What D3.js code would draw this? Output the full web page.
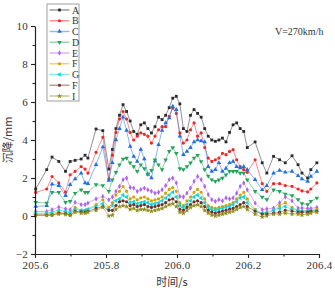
<!DOCTYPE html>
<html>
<head>
<meta charset="utf-8">
<script src="https://cdn.jsdelivr.net/npm/d3@7"></script>
<style>
  body { margin: 0; background: #fff; }
  svg text { font-family: "Liberation Serif", "DejaVu Serif", serif; fill: #333; }
  .cjk { font-family: "Noto Sans CJK SC", sans-serif; }
</style>
</head>
<body>
<div id="chart"></div>
<script>
// time axis (s)
const times = [
  205.602, 205.633, 205.648, 205.667, 205.686, 205.699, 205.713, 205.730, 205.741, 205.749, 205.772, 205.791, 205.808,
  205.818, 205.828, 205.838, 205.848, 205.858, 205.868, 205.878, 205.888, 205.898, 205.908,
  205.918, 205.928, 205.938, 205.948, 205.958, 205.968, 205.978, 205.988, 205.998, 206.008,
  206.018, 206.028, 206.038, 206.048, 206.058, 206.068, 206.078, 206.088, 206.098, 206.108,
  206.118, 206.128, 206.138, 206.148, 206.158, 206.168, 206.178, 206.188, 206.198,
  206.220, 206.240, 206.253, 206.272, 206.289, 206.305, 206.324, 206.341, 206.352, 206.368, 206.377, 206.394
];

// settlement (mm) per measuring point
const seriesA = [
  1.42, 2.44, 3.1, 2.87, 2.35, 2.87, 2.93, 3.0, 3.2, 3.05, 4.58, 4.49, 2.47,
  3.5, 4.6, 5.3, 5.86, 5.5, 5.0, 4.45, 4.3, 4.8, 4.9,
  4.6, 4.37, 4.7, 5.2, 5.07, 5.3, 5.7, 6.2, 6.3, 5.9,
  4.6, 4.45, 5.3, 5.6, 5.4, 5.2, 4.6, 4.2, 4.0, 3.93,
  4.0, 4.1, 3.9, 4.4, 4.8, 4.9, 4.6, 4.45, 3.6,
  3.9, 2.8, 2.26, 3.14, 2.96, 2.8, 3.17, 2.7, 2.26, 2.0, 2.44, 2.8
];
const seriesB = [
  1.24, 1.42, 2.08, 1.74, 1.26, 2.17, 2.35, 2.6, 2.47, 2.26, 3.35, 4.14, 1.95,
  3.2, 4.4, 5.1, 5.5, 5.1, 4.4, 4.0, 4.2, 4.37, 4.3,
  4.2, 3.84, 4.2, 4.54, 4.7, 4.7, 5.24, 5.68, 5.4, 4.37,
  3.84, 4.0, 4.54, 4.9, 4.2, 4.37, 3.6, 3.05, 2.87, 2.96,
  3.05, 3.3, 3.23, 3.4, 3.49, 2.96, 2.6, 2.44, 2.3,
  2.96, 1.7, 1.3, 1.7, 1.7, 1.6, 1.56, 1.42, 1.32, 1.27, 1.42, 1.74
];
const seriesC = [
  0.5, 0.54, 1.68, 1.6, 1.07, 1.65, 1.95, 2.26, 1.74, 1.7, 2.7, 3.63, 1.87,
  2.8, 4.0, 4.6, 5.2, 4.5, 3.66, 3.14, 2.87, 3.5, 3.0,
  2.2, 2.0, 2.9, 3.75, 4.5, 4.9, 5.16, 5.77, 5.6, 4.2,
  3.23, 3.4, 3.6, 3.9, 4.0, 3.95, 3.9, 2.6, 2.35, 2.44,
  2.8, 2.35, 2.5, 2.8, 2.87, 2.6, 2.53, 2.6, 2.44,
  1.91, 1.38, 1.6, 2.26, 2.4, 2.3, 2.35, 2.12, 1.95, 1.82, 2.08, 2.35
];
const seriesD = [
  0.72, 0.68, 1.24, 1.24, 0.72, 0.77, 1.2, 1.38, 1.24, 1.24, 1.65, 1.6, 1.3,
  1.9, 2.3, 2.7, 3.0, 3.05, 2.8, 2.6, 2.35, 2.7, 2.5,
  2.2, 2.4, 2.96, 2.7, 2.44, 2.96, 3.4, 3.6, 3.3, 2.5,
  2.44, 2.6, 2.8, 3.05, 3.2, 2.87, 2.44, 2.1, 1.91, 1.82,
  1.9, 2.0, 2.17, 2.35, 2.35, 2.35, 2.26, 2.26, 1.9,
  1.3, 1.0, 0.86, 1.38, 1.3, 1.16, 1.07, 0.86, 0.65, 0.6, 0.77, 0.95
];
const seriesE = [
  0.24, 0.24, 0.33, 0.47, 0.38, 0.33, 0.72, 0.6, 0.6, 0.68, 0.9, 1.03, 0.85,
  1.0, 1.3, 1.56, 1.91, 2.0, 1.5, 1.47, 1.3, 1.4, 1.47,
  1.38, 1.3, 1.2, 1.25, 1.38, 1.6, 1.91, 2.0, 1.74, 1.03,
  1.0, 1.2, 1.47, 1.82, 2.08, 1.91, 1.56, 1.12, 0.86, 0.77,
  0.86, 0.8, 0.95, 0.9, 0.95, 1.2, 1.56, 1.74, 1.38,
  0.68, 0.33, 0.37, 0.42, 0.7, 1.0, 0.8, 0.42, 0.42, 0.4, 0.4, 0.45
];
const seriesF = [
  0.1, 0.1, 0.15, 0.2, 0.15, 0.1, 0.45, 0.3, 0.3, 0.35, 0.6, 0.85, 0.45,
  0.7, 1.1, 1.3, 1.55, 1.3, 0.9, 1.0, 0.85, 0.95, 1.0,
  0.9, 0.8, 0.85, 0.9, 1.0, 1.2, 1.4, 1.5, 1.3, 0.7,
  0.55, 0.8, 1.0, 1.25, 1.4, 1.25, 0.9, 0.55, 0.45, 0.4,
  0.45, 0.5, 0.55, 0.6, 0.7, 0.9, 1.1, 1.25, 0.9,
  0.35, 0.1, 0.15, 0.3, 0.55, 0.7, 0.45, 0.3, 0.25, 0.3, 0.3, 0.35
];
const seriesG = [
  0.15, 0.15, 0.2, 0.3, 0.25, 0.2, 0.35, 0.3, 0.3, 0.35, 0.5, 0.65, 0.35,
  0.55, 0.8, 0.9, 1.1, 1.0, 0.7, 0.75, 0.65, 0.7, 0.75,
  0.7, 0.6, 0.65, 0.7, 0.8, 0.95, 1.1, 1.25, 1.0, 0.55,
  0.45, 0.6, 0.8, 1.0, 1.1, 0.95, 0.7, 0.45, 0.35, 0.3,
  0.35, 0.4, 0.45, 0.5, 0.6, 0.75, 0.95, 1.0, 0.7,
  0.3, 0.15, 0.2, 0.3, 0.4, 0.5, 0.35, 0.3, 0.25, 0.25, 0.3, 0.3
];
const seriesF2 = [
  0.05, 0.05, 0.05, 0.15, 0.12, 0.05, 0.25, 0.22, 0.2, 0.25, 0.4, 0.5, 0.3,
  0.3, 0.55, 0.75, 0.8, 0.75, 0.55, 0.6, 0.5, 0.55, 0.6,
  0.5, 0.45, 0.5, 0.55, 0.6, 0.7, 0.85, 0.9, 0.75, 0.35,
  0.3, 0.45, 0.6, 0.75, 0.8, 0.7, 0.5, 0.3, 0.2, 0.15,
  0.2, 0.25, 0.3, 0.35, 0.4, 0.5, 0.6, 0.7, 0.5,
  0.25, 0.1, 0.1, 0.15, 0.2, 0.3, 0.25, 0.2, 0.2, 0.2, 0.25, 0.25
];
const seriesI = [
  0.03, 0.03, 0.05, 0.1, 0.08, 0.03, 0.2, 0.15, 0.15, 0.2, 0.3, 0.45, 0.0,
  0.05, 0.35, 0.5, 0.55, 0.5, 0.35, 0.4, 0.3, 0.35, 0.35,
  0.3, 0.25, 0.3, 0.35, 0.4, 0.5, 0.6, 0.65, 0.5, 0.2,
  0.15, 0.3, 0.45, 0.55, 0.6, 0.5, 0.3, 0.15, 0.05, 0.0,
  0.05, 0.1, 0.15, 0.2, 0.25, 0.35, 0.45, 0.5, 0.35,
  0.1, -0.05, 0.0, 0.1, 0.1, 0.15, 0.1, 0.1, 0.05, 0.1, 0.15, 0.2
];

const labels = ['A', 'B', 'C', 'D', 'E', 'F', 'G', 'F', 'I'];
const xTicks = [205.6, 205.8, 206.0, 206.2, 206.4];
const yTicks = [-2, 0, 2, 4, 6, 8, 10];

const series = [
  { label: labels[0], values: seriesA, color: '#2b2b2b', shape: 'square' },
  { label: labels[1], values: seriesB, color: '#f42424', shape: 'circle' },
  { label: labels[2], values: seriesC, color: '#1f6fe6', shape: 'up' },
  { label: labels[3], values: seriesD, color: '#23a35a', shape: 'down' },
  { label: labels[4], values: seriesE, color: '#b061ea', shape: 'diamond' },
  { label: labels[5], values: seriesF, color: '#d6a000', shape: 'circle' },
  { label: labels[6], values: seriesG, color: '#13d3d8', shape: 'left' },
  { label: labels[7], values: seriesF2, color: '#6e2e2e', shape: 'circle' },
  { label: labels[8], values: seriesI, color: '#8c8c16', shape: 'star' }
];

const width = 335, height = 291;
const margin = { top: 26, right: 16, bottom: 37, left: 35 };

const svg = d3.select('#chart').append('svg')
  .attr('width', width)
  .attr('height', height);

const x = d3.scaleLinear().domain([205.6, 206.4]).range([margin.left, width - margin.right]);
const y = d3.scaleLinear().domain([-2, 10]).range([height - margin.bottom, margin.top]);

// symbol generator per shape
function symbolPath(shape) {
  const s = d3.symbol().size(8);
  if (shape === 'square') return s.type(d3.symbolSquare)();
  if (shape === 'circle') return s.type(d3.symbolCircle)();
  if (shape === 'diamond') return s.type(d3.symbolDiamond)();
  if (shape === 'star') return s.type(d3.symbolStar).size(9)();
  return s.type(d3.symbolTriangle).size(9)();
}
function symbolRotate(shape) {
  if (shape === 'down') return 180;
  if (shape === 'left') return -90;
  return 0;
}

const line = d3.line()
  .x((d, i) => x(times[i]))
  .y(d => y(d));

const plot = svg.append('g');

series.forEach(s => {
  const g = plot.append('g');
  g.append('path')
    .datum(s.values)
    .attr('d', line)
    .attr('fill', 'none')
    .attr('stroke', s.color)
    .attr('stroke-opacity', 0.75)
    .attr('stroke-width', 0.7);

  g.selectAll('path.pt')
    .data(s.values)
    .enter()
    .append('path')
    .attr('class', 'pt')
    .attr('d', symbolPath(s.shape))
    .attr('transform', (d, i) => `translate(${x(times[i])},${y(d)}) rotate(${symbolRotate(s.shape)})`)
    .attr('fill', s.color);
});

// axes
const xAxis = svg.append('g')
  .attr('transform', `translate(0,${height - margin.bottom})`)
  .call(d3.axisBottom(x).tickValues(xTicks).tickSize(4).tickSizeOuter(0)
    .tickFormat(d3.format('.1f')));
svg.append('g')
  .attr('transform', `translate(0,${height - margin.bottom})`)
  .call(d3.axisBottom(x).tickValues([205.7, 205.9, 206.1, 206.3]).tickSize(2.5).tickFormat(''))
  .select('.domain').remove();

const yAxis = svg.append('g')
  .attr('transform', `translate(${margin.left},0)`)
  .call(d3.axisLeft(y).tickValues(yTicks).tickSize(4).tickSizeOuter(0));
svg.append('g')
  .attr('transform', `translate(${margin.left},0)`)
  .call(d3.axisLeft(y).tickValues([-1, 1, 3, 5, 7, 9]).tickSize(2.5).tickFormat(''))
  .select('.domain').remove();

svg.selectAll('.domain').attr('stroke', '#222').attr('stroke-width', 1.2);
svg.selectAll('.tick line').attr('stroke', '#222').attr('stroke-width', 1.1);
svg.selectAll('.tick text')
  .style('font-family', '"Liberation Serif", serif')
  .style('font-size', '11px')
  .style('letter-spacing', '0.3px')
  .attr('fill', '#444');

// axis titles
svg.append('text')
  .attr('class', 'cjk')
  .attr('x', 172)
  .attr('y', 286)
  .attr('text-anchor', 'middle')
  .style('font-family', '"Noto Sans CJK SC", sans-serif')
  .style('font-size', '11px')
  .text('时间/s');

svg.append('text')
  .attr('class', 'cjk')
  .attr('transform', 'translate(12,140) rotate(-90)')
  .attr('text-anchor', 'middle')
  .style('font-family', '"Noto Sans CJK SC", sans-serif')
  .style('font-size', '11px')
  .text('沉降/mm');

svg.append('text')
  .attr('x', 275)
  .attr('y', 35)
  .style('font-size', '10px')
  .text('V=270km/h');

// legend
const legend = svg.append('g').attr('transform', 'translate(47,4)');
legend.append('rect')
  .attr('width', 32)
  .attr('height', 97)
  .attr('fill', '#fff')
  .attr('stroke', '#888')
  .attr('stroke-width', 0.8);

const items = legend.selectAll('.legend-item')
  .data(series)
  .enter()
  .append('g')
  .attr('class', 'legend-item')
  .attr('transform', (d, i) => `translate(0, ${6 + i * 10.75})`);

items.append('line')
  .attr('x1', 2.5)
  .attr('x2', 22.5)
  .attr('stroke', d => d.color)
  .attr('stroke-opacity', 0.5)
  .attr('stroke-width', 1.4);

items.append('path')
  .attr('d', d => symbolPath(d.shape))
  .attr('transform', d => `translate(12.5,0) rotate(${symbolRotate(d.shape)})`)
  .attr('fill', d => d.color);

items.append('text')
  .attr('x', 25)
  .attr('dy', '0.35em')
  .style('font-size', '10px')
  .text(d => d.label);
</script>
</body>
</html>
